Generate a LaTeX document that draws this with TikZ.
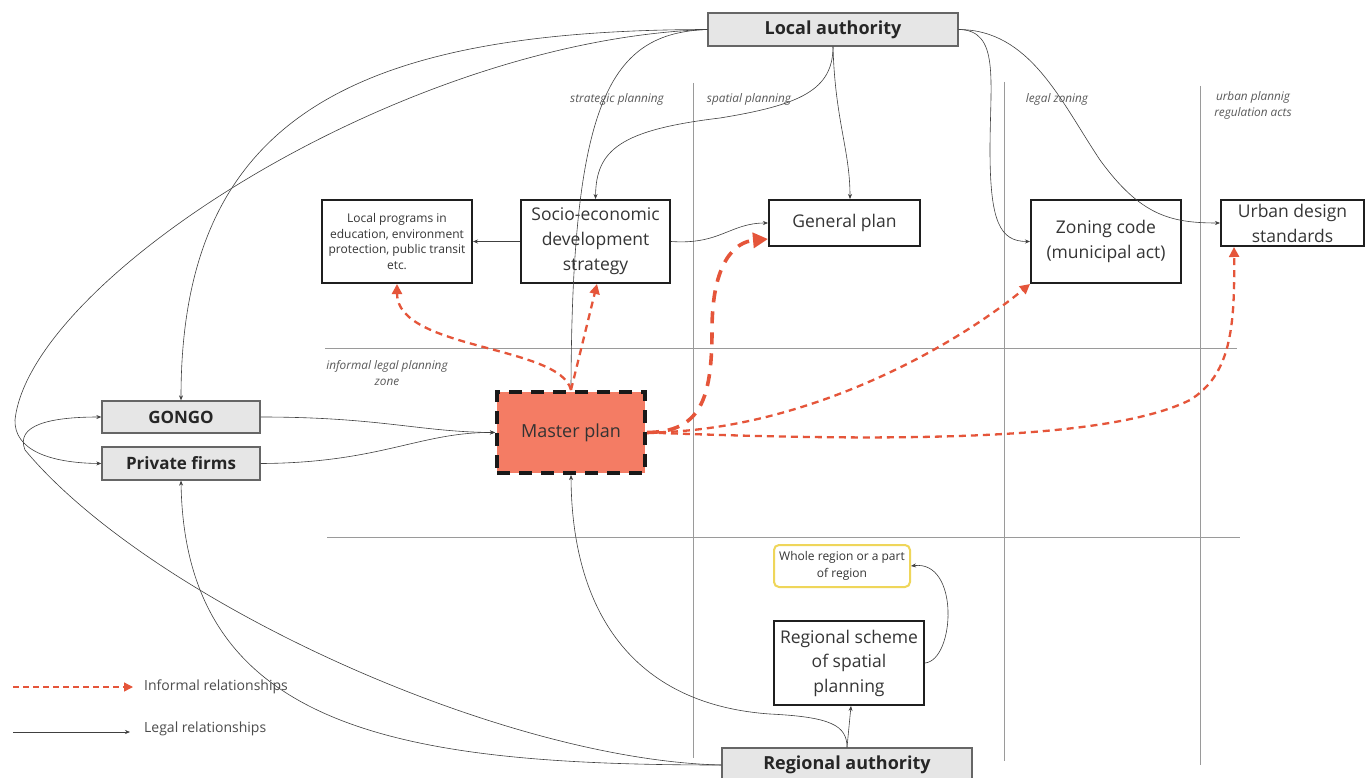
\documentclass[tikz,border=0pt]{standalone}
\usepackage{fontspec}
\setmainfont{Open Sans}
\usetikzlibrary{arrows.meta}
\definecolor{txt}{HTML}{353535}
\definecolor{redx}{HTML}{E5553A}
\definecolor{mpfill}{HTML}{F47C64}
\definecolor{grayfill}{HTML}{E6E6E6}
\definecolor{yel}{HTML}{EFD65A}
\definecolor{divc}{HTML}{9A9A9A}
\begin{document}
\begin{tikzpicture}[x=1pt,y=-1pt,
  wbox/.style={draw=black!88, line width=2pt, fill=white, inner sep=0pt, align=center, text=txt, font=\fontsize{17.5}{25}\selectfont},
  gbox/.style={draw=black!60, line width=1.3pt, fill=grayfill, inner sep=0pt, text=black!85, font=\bfseries\fontsize{18}{22}\selectfont},
  lab/.style={text=black!65, font=\itshape\fontsize{11.8}{16}\selectfont, align=center, inner sep=0pt},
  divider/.style={draw=divc, line width=0.8pt},
  legal/.style={draw=black!75, line width=0.6pt, -{Stealth[length=5pt,width=4pt]}},
  informal/.style={draw=redx, line width=2.3pt, dash pattern=on 7pt off 5pt, -{Triangle[length=10pt,width=10pt]}},
  bigflow/.style={draw=redx, line width=3.6pt, dash pattern=on 12pt off 9pt, -{Triangle[length=15pt,width=15pt]}},
  legtext/.style={anchor=west, inner sep=0pt, text=black!70, font=\fontsize{14}{16}\selectfont}]
\clip (0,0) rectangle (1365,778);
\fill[white] (0,0) rectangle (1365,778);

% dividers
\draw[divider] (693,83) -- (693,758);
\draw[divider] (1004,82) -- (1004,761);
\draw[divider] (1200,86) -- (1200,765);
\draw[divider] (325,348) -- (1237,348);
\draw[divider] (327,537) -- (1240,537);

% labels
\node[lab] (Lstrat) at (617,99) {strategic planning};
\node[lab] (Lspat) at (749,99) {spatial planning};
\node[lab] (Llegal) at (1057,99) {legal zoning};
\node[lab] (Lurban) at (1253,105) {urban plannig\\regulation acts};
\node[lab] (Linf) at (387,373) {informal legal planning\\zone};

% nodes
\node[gbox, minimum width=250pt, minimum height=33pt] (LA) at (833,29.5) {Local authority};
\node[wbox, minimum width=150pt, minimum height=83pt, font=\fontsize{12}{15.5}\selectfont] (LP) at (397,241.5) {Local programs in\\education, environment\\protection, public transit\\etc.};
\node[wbox, minimum width=149pt, minimum height=83pt] (SE) at (595.5,241.5) {Socio-economic\\development\\strategy};
\node[wbox, minimum width=151pt, minimum height=46pt] (GP) at (844.5,223) {General plan};
\node[wbox, minimum width=150pt, minimum height=83pt] (ZC) at (1106,241.5) {Zoning code\\(municipal act)};
\node[wbox, minimum width=143pt, minimum height=46pt] (UD) at (1292.5,223) {Urban design\\standards};
\node[gbox, minimum width=158pt, minimum height=32pt, font=\bfseries\fontsize{17}{20}\selectfont] (GONGO) at (181,417) {GONGO};
\node[gbox, minimum width=158pt, minimum height=33pt, font=\bfseries\fontsize{17}{20}\selectfont] (PF) at (181,463.5) {Private firms};
\node[draw=black!90, line width=4pt, dash pattern=on 13pt off 9pt, fill=mpfill, minimum width=148pt, minimum height=81pt, inner sep=0pt, text=black!80, font=\fontsize{18}{22}\selectfont] (MP) at (571,432.5) {Master plan};
\node[draw=yel, line width=2pt, rounded corners=5pt, fill=white, minimum width=136pt, minimum height=42pt, inner sep=0pt, align=center, text=txt, font=\fontsize{12}{17}\selectfont] (WR) at (842,566) {Whole region or a part\\of region};
\node[wbox, minimum width=150pt, minimum height=84pt, font=\fontsize{17.5}{24.5}\selectfont] (RS) at (849,663) {Regional scheme\\of spatial\\planning};
\node[gbox, minimum width=250pt, minimum height=34pt] (RA) at (847,765) {\raisebox{2pt}{Regional authority}};

% legal relationships
\draw[legal] (LA.west) .. controls (350,30) and (181,120) .. (GONGO.north);
\draw[legal] (LA.west) .. controls (400,40) and (30,280) .. (15,420) .. controls (14,450) and (50,463) .. (PF.west);
\draw[legal] (LA.west) .. controls (610,33) and (572,100) .. (MP.north);
\draw[legal] (LA.south) .. controls (833,90) and (800,105) .. (720,118) .. controls (620,130) and (596,150) .. (SE.north);
\draw[legal] (LA.south) .. controls (835,120) and (850,150) .. ([xshift=5.5pt]GP.north);
\draw[legal] (LA.east) .. controls (1000,30) and (990,80) .. (990,150) .. controls (990,222) and (1000,241.5) .. (ZC.west);
\draw[legal] (LA.east) .. controls (1030,30) and (1060,100) .. (1100,160) .. controls (1140,215) and (1170,223) .. (UD.west);
\draw[legal] (SE.east) .. controls (720,245) and (730,223) .. (GP.west);
\draw[legal] (SE.west) -- (LP.east);
\draw[legal] (GONGO.east) .. controls (380,417) and (420,432) .. (MP.west);
\draw[legal] (PF.east) .. controls (380,463) and (420,432) .. (MP.west);
\draw[legal] (RA.west) .. controls (500,760) and (150,600) .. (25,450) .. controls (15,425) and (50,417) .. (GONGO.west);
\draw[legal] (RA.west) .. controls (400,765) and (185,730) .. (PF.south);
\draw[legal] (RA.north) .. controls (847,725) and (830,717) .. (770,714) .. controls (640,705) and (572,620) .. (MP.south);
\draw[legal] (RA.north) -- ([xshift=2pt]RS.south);
\draw[legal] (RS.east) .. controls (955,660) and (960,560) .. (WR.east);

% informal relationships
\draw[informal] (MP.north) .. controls (560,345) and (397,350) .. (LP.south);
\draw[informal] (MP.north) -- ([xshift=1.5pt]SE.south);
\draw[bigflow] (MP.east) .. controls (700,432) and (712,400) .. (712,330) .. controls (712,262) and (735,242) .. ([yshift=8pt]GP.south west);
\draw[informal] (MP.east) .. controls (800,432) and (950,350) .. (ZC.south west);
\draw[informal] (MP.east) .. controls (850,440) and (1100,445) .. (1190,400) .. controls (1230,375) and (1235,330) .. ([xshift=14pt]UD.south west);

% legend
\coordinate (l1a) at (13,687);
\coordinate (l1b) at (133,687);
\coordinate (l2a) at (13,732);
\coordinate (l2b) at (130,732);
\draw[draw=redx, line width=1.4pt, dash pattern=on 6pt off 4pt, -{Triangle[length=9pt,width=9pt]}] (l1a) -- (l1b);
\draw[legal] (l2a) -- (l2b);
\node[legtext] (t1) at (144,687) {Informal relationships};
\node[legtext] (t2) at (144,729) {Legal relationships};
\end{tikzpicture}
\end{document}
